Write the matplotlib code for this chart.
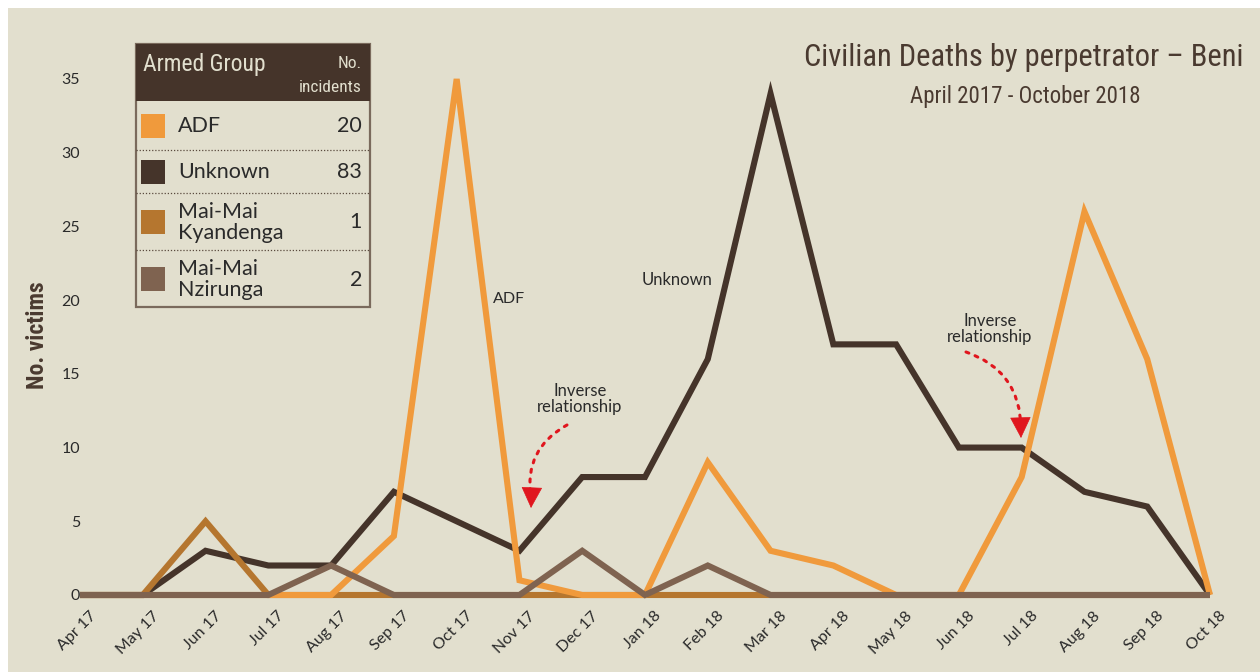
import matplotlib
matplotlib.use("Agg")
import matplotlib.pyplot as plt
from matplotlib.patches import Rectangle, FancyArrowPatch
from matplotlib.lines import Line2D
from matplotlib.transforms import ScaledTranslation

# ---------------- data ----------------
months = ["Apr 17", "May 17", "Jun 17", "Jul 17", "Aug 17", "Sep 17", "Oct 17",
          "Nov 17", "Dec 17", "Jan 18", "Feb 18", "Mar 18", "Apr 18", "May 18",
          "Jun 18", "Jul 18", "Aug 18", "Sep 18", "Oct 18"]
adf = [0, 0, 0, 0, 0, 4, 35, 1, 0, 0, 9, 3, 2, 0, 0, 8, 26, 16, 0]
unknown = [0, 0, 3, 2, 2, 7, 5, 3, 8, 8, 16, 34, 17, 17, 10, 10, 7, 6, 0]
kyandenga = [0, 0, 5, 0, 0, 0, 0, 0, 0, 0, 0, 0, 0, 0, 0, 0, 0, 0, 0]
nzirunga = [0, 0, 0, 0, 2, 0, 0, 0, 3, 0, 2, 0, 0, 0, 0, 0, 0, 0, 0]
groups = ["ADF", "Unknown", "Mai-Mai\nKyandenga", "Mai-Mai\nNzirunga"]
incidents = [20, 83, 1, 2]
yticks = [0, 5, 10, 15, 20, 25, 30, 35]

# ---------------- style ----------------
W, H = 1260, 672
BG = "#E2DFCE"
C_ADF = "#F09A3C"
C_UNK = "#45342A"
C_KYA = "#B5762F"
C_NZI = "#7F6350"
C_TXT = "#4A3A30"
C_LBL = "#2A2A2A"
RED = "#E0161E"
BODY = ["Lato", "DejaVu Sans"]
COND = ["Roboto Condensed", "Liberation Sans Narrow", "DejaVu Sans"]
colors = [C_ADF, C_UNK, C_KYA, C_NZI]


def px(x, y):
    return (x / W, 1 - y / H)


fig = plt.figure(figsize=(W / 100, H / 100), dpi=100)
fig.patch.set_facecolor("white")
fig.patches.append(Rectangle(px(8, H), (W - 8) / W, (H - 8) / H,
                             transform=fig.transFigure, facecolor=BG,
                             edgecolor="none", zorder=-5))

ax = fig.add_axes([80 / W, 1 - 595 / H, (1210 - 80) / W, (595 - 79) / H])
ax.set_zorder(2)
ax.set_facecolor("none")
for s in ax.spines.values():
    s.set_visible(False)
x = list(range(len(months)))
lw = 4.4
series = [(unknown, C_UNK, 2), (kyandenga, C_KYA, 3), (adf, C_ADF, 4), (nzirunga, C_NZI, 5)]
for vals, col, z in series:
    ax.plot(x, vals, color=col, lw=lw, zorder=z, clip_on=False,
            solid_joinstyle="miter", solid_capstyle="butt")
ax.set_xlim(0, 18)
ax.set_ylim(0, 35)
ax.set_yticks(yticks)
ax.set_yticklabels([str(v) for v in yticks], fontsize=11.5, family=BODY, color=C_LBL)
ax.set_xticks(x)
ax.set_xticklabels(months, rotation=45, ha="right", va="top", rotation_mode="anchor",
                   fontsize=11.5, family=BODY, color=C_LBL)
ax.tick_params(axis="both", length=0)
ax.tick_params(axis="y", pad=0)
ax.tick_params(axis="x", pad=10)
for lbl in ax.get_xticklabels():
    lbl.set_transform(lbl.get_transform() + ScaledTranslation(0.09, 0.0, fig.dpi_scale_trans))

# y label
fig.text(*px(37, 335), "No. victims", rotation=90, ha="center", va="center",
         fontsize=17, family=COND, color=C_TXT, fontweight="bold")

# titles
fig.text(*px(1243, 57), "Civilian Deaths by perpetrator \u2013 Beni", ha="right", va="center",
         fontsize=22, family=COND, color=C_TXT)
fig.text(*px(1025, 96), "April 2017 - October 2018", ha="center", va="center",
         fontsize=16.5, family=COND, color=C_TXT)

# series labels
fig.text(*px(509, 299), "ADF", ha="center", va="center", fontsize=11.5, family=BODY, color=C_LBL)
fig.text(*px(677, 280), "Unknown", ha="center", va="center", fontsize=12, family=BODY, color=C_LBL)
for (tx, ty) in [(580, 399), (990, 329)]:
    fig.text(*px(tx, ty), "Inverse\nrelationship", ha="center", va="center",
             fontsize=12, family=BODY, color=C_LBL, linespacing=1.05)

# dotted red arrows
for (x0, y0, x1, y1, rad) in [(567, 425, 531, 508, 0.35), (966, 352, 1021, 438, -0.35)]:
    curve = FancyArrowPatch(px(x0, y0), px(x1, y1 - 10), transform=fig.transFigure,
                            arrowstyle="-", connectionstyle=f"arc3,rad={rad}",
                            linestyle=(0, (1, 2.2)), lw=2.2, color=RED, zorder=6,
                            shrinkA=0, shrinkB=0)
    fig.patches.append(curve)
    head = FancyArrowPatch(px(x1 + (0.6 if rad > 0 else -0.4), y1 - 14), px(x1, y1),
                           transform=fig.transFigure,
                           arrowstyle="-|>,head_length=1.0,head_width=0.5",
                           mutation_scale=14, lw=0.5, color=RED, zorder=6,
                           shrinkA=0, shrinkB=0)
    fig.patches.append(head)

# legend table
L, R, T, B = 136, 370, 44, 307
HDR = 101
row_edges = [HDR, 150, 193, 250, B]
fig.patches.append(Rectangle(px(L, B), (R - L) / W, (B - T) / H, transform=fig.transFigure,
                             facecolor=BG, edgecolor="#7A6A5C", lw=1.6, zorder=7))
fig.patches.append(Rectangle(px(L, HDR), (R - L) / W, (HDR - T) / H, transform=fig.transFigure,
                             facecolor=C_UNK, edgecolor="none", zorder=8))
fig.text(*px(143, 65), "Armed Group", ha="left", va="center", fontsize=17,
         family=COND, color=BG, zorder=9)
fig.text(*px(362, 64), "No.", ha="right", va="center", fontsize=12.5,
         family=COND, color=BG, zorder=9)
fig.text(*px(362, 87), "incidents", ha="right", va="center", fontsize=12.5,
         family=COND, color=BG, zorder=9)
for i, (g, n, c) in enumerate(zip(groups, incidents, colors)):
    y0, y1 = row_edges[i], row_edges[i + 1]
    yc = (y0 + y1) / 2
    if i > 0:
        fig.lines.append(Line2D([px(L, y0)[0], px(R, y0)[0]], [px(L, y0)[1], px(R, y0)[1]],
                                transform=fig.transFigure, color="#5A4A3E", lw=0.9,
                                linestyle=(0, (1, 1.5)), zorder=9))
    fig.patches.append(Rectangle(px(141, yc + 12), 24 / W, 24 / H, transform=fig.transFigure,
                                 facecolor=c, edgecolor="none", zorder=9))
    fig.text(*px(178, yc + 1), g, ha="left", va="center", fontsize=15.5, family=BODY,
             color=C_LBL, linespacing=1.1, zorder=9)
    fig.text(*px(362, yc + 1), str(n), ha="right", va="center", fontsize=15.5, family=BODY,
             color=C_LBL, zorder=9)

fig.savefig("out.png", dpi=100, facecolor=fig.get_facecolor())
